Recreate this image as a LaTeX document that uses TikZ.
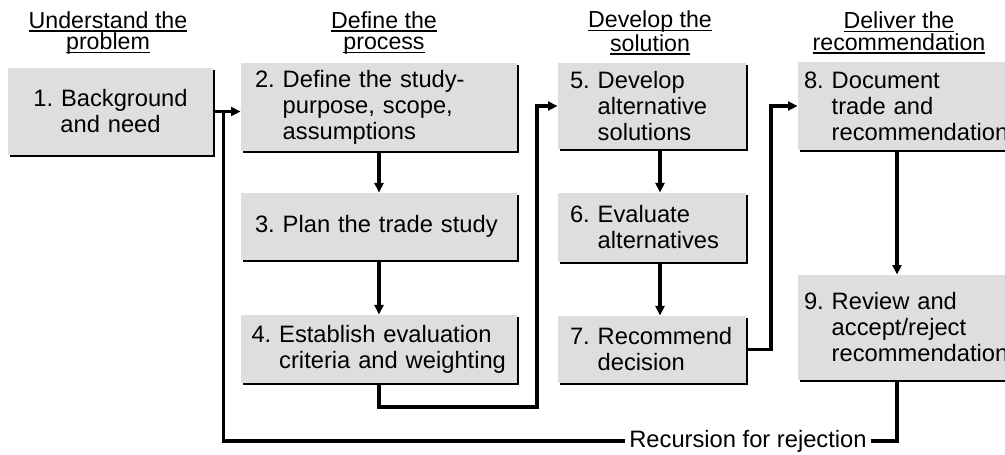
\documentclass[tikz,border=0pt]{standalone}
\usepackage{fontspec}
\setmainfont{Liberation Sans}
\usetikzlibrary{arrows.meta,calc,shadows}
\definecolor{boxgray}{RGB}{222,222,222}
\frenchspacing
\hyphenpenalty=10000
\newcommand{\headul}[1]{\setbox0=\hbox{#1}\rlap{\rule[-2pt]{\wd0}{0.8pt}}\box0}
\tikzset{
base/.style={fill=boxgray, general shadow={fill=black, shadow xshift=1pt, shadow yshift=-1pt}, align=left, inner ysep=0pt, font=\fontsize{13.5}{14.8}\selectfont},
stepA/.style={base, align=center, text width=3.7cm, inner xsep=0.2cm},
stepB/.style={base, text width=5.24cm, inner xsep=0.14cm},
stepC/.style={base, text width=3.28cm, inner xsep=0.24cm},
stepD/.style={base, text width=4.46cm, inner xsep=0.12cm},
phase/.style={align=center, inner sep=0pt, font=\fontsize{13.2}{12.2}\selectfont},
arrow/.style={-{Triangle[length=5.5pt,width=5pt]}, line width=1.8pt},
link/.style={line width=1.8pt},
recurlabel/.style={inner xsep=2pt, inner ysep=0pt, font=\fontsize{13.5}{14.8}\selectfont}
}
\begin{document}
\begin{tikzpicture}[x=0.02cm, y=-0.02cm]
\path[use as bounding box, clip] (0,0) rectangle (1005,454);
% phase headings
\node[phase] (ph1) at (108,33) {\headul{Understand the}\\\headul{problem}};
\node[phase] (ph2) at (384,33) {\headul{Define the}\\\headul{process}};
\node[phase] (ph3) at (650,33) {\headul{Develop the}\\\headul{solution}};
\node[phase] (ph4) at (899,33) {\headul{Deliver the}\\\headul{recommendation}};
% steps
\node[stepA, minimum height=1.74cm] (s1) at (110.5,111.5) {1. Background\\and need};
\node[stepB, minimum height=1.76cm] (s2) at (379,107) {\hspace*{4pt}2. Define the study-\\\hspace*{4pt}\hphantom{2. }purpose, scope,\\\hspace*{4pt}\hphantom{2. }assumptions};
\node[stepB, minimum height=1.34cm] (s3) at (379,226.5) {\hspace*{4pt}3. Plan the trade study};
\node[stepB, minimum height=1.36cm] (s4) at (379,349) {\hspace*{2pt}4. Establish evaluation\\\hspace*{2pt}\hphantom{4. }criteria and weighting};
\node[stepC, minimum height=1.72cm] (s5) at (652,106) {5. Develop\\\hphantom{5. }alternative\\\hphantom{5. }solutions};
\node[stepC, minimum height=1.38cm] (s6) at (652,227.5) {6. Evaluate\\\hphantom{6. }alternatives};
\node[stepC, minimum height=1.34cm] (s7) at (652,349.5) {7. Recommend\\\hphantom{7. }decision};
\node[stepD, minimum height=1.76cm] (s8) at (915.5,106) {8. Document\\\hphantom{8. }trade and\\\hphantom{8. }recommendation};
\node[stepD, minimum height=2.1cm] (s9) at (915.5,327.5) {9. Review and\\\hphantom{9. }accept/reject\\\hphantom{9. }recommendation};
\node[recurlabel] (recur) at (748,441) {Recursion for rejection};
% bends
\coordinate (split) at ($(s1.east)+(10,0)$);
\coordinate (turnA) at (537,407);
\coordinate (turnB) at (771,349.5);
\coordinate (axisC) at (660,0);
\coordinate (axisD) at (897,0);
% flow
\draw[arrow] (s1.east) -- (s1.east -| s2.west);
\draw[arrow] (s2.south) -- (s3.north);
\draw[arrow] (s3.south) -- (s4.north);
\draw[arrow] (s4.south) |- (turnA) |- (s5.west);
\draw[arrow] (s5.south -| axisC) -- (s6.north -| axisC);
\draw[arrow] (s6.south -| axisC) -- (s7.north -| axisC);
\draw[arrow] (s7.east) -- (turnB) |- (s8.west);
\draw[arrow] (s8.south -| axisD) -- (s9.north -| axisD);
\draw[link] (split) |- (recur.west);
\draw[link] (s9.south -| axisD) |- (recur.east);
\end{tikzpicture}
\end{document}
